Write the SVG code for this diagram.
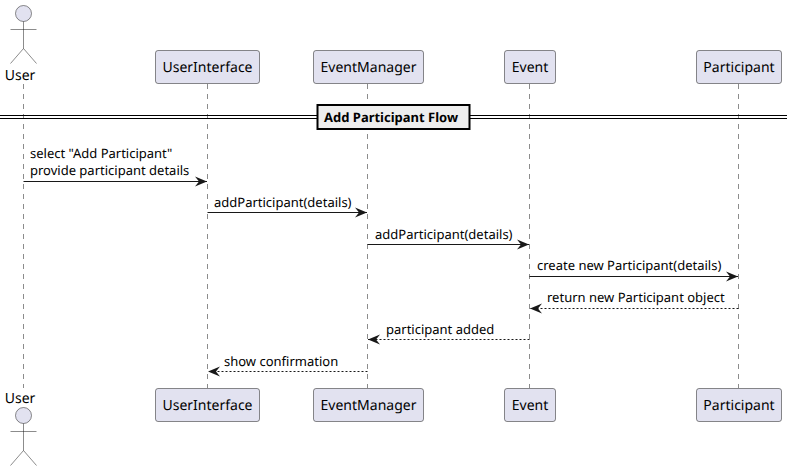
<svg xmlns="http://www.w3.org/2000/svg" width="792" height="471" viewBox="0 0 792 471">
<style>
text{font-family:"Noto Sans","Open Sans",sans-serif;fill:#000;text-rendering:geometricPrecision}
.n{font-size:14px;text-anchor:middle}
.m{font-size:13px}
.box{fill:#E2E2F0;stroke:#181818;stroke-width:.5}
.act{fill:none;stroke:#181818;stroke-width:.5}
.life{stroke:#181818;stroke-width:.5;stroke-dasharray:5 5;fill:none}
.msg{stroke:#181818;stroke-width:1;fill:none}
.dash{stroke-dasharray:2 2}
</style>
<defs>
<marker id="arrow" markerUnits="userSpaceOnUse" markerWidth="13" markerHeight="12" refX="12" refY="6" orient="auto"><path d="M0 1L12 6L0 11L4 6Z" fill="#181818"/></marker>
</defs>
<g id="connectors">
<path class="life" d="M23.5 84V388M207.5 84V388M367.5 84V388M529.5 84V388M738.5 84V388"/>
<path class="msg" marker-end="url(#arrow)" d="M23.5 181.5H207"/>
<path class="msg" marker-end="url(#arrow)" d="M207.5 212.5H367"/>
<path class="msg" marker-end="url(#arrow)" d="M367.5 244.5H529"/>
<path class="msg" marker-end="url(#arrow)" d="M529.5 276.5H738"/>
<path class="msg dash" marker-end="url(#arrow)" d="M738.5 308.5H530"/>
<path class="msg dash" marker-end="url(#arrow)" d="M529.5 339.5H368"/>
<path class="msg dash" marker-end="url(#arrow)" d="M367.5 371.5H208"/>
<text class="m" x="30" y="158">select "Add Participant"</text>
<text class="m" x="30" y="175">provide participant details</text>
<text class="m" x="214" y="207">addParticipant(details)</text>
<text class="m" x="375" y="239">addParticipant(details)</text>
<text class="m" x="537" y="270">create new Participant(details)</text>
<text class="m" x="547" y="302">return new Participant object</text>
<text class="m" x="386" y="334">participant added</text>
<text class="m" x="224" y="366">show confirmation</text>
</g>
<g id="divider">
<path d="M0 115.5H317M0 118.5H317M470 115.5H787M470 118.5H787" stroke="#000" stroke-width="1" fill="none"/>
<rect x="317.5" y="105" width="152" height="24" fill="#EEEEEE" stroke="#000" stroke-width="2"/>
<text x="324" y="122" font-size="13" font-weight="700">Add Participant Flow</text>
</g>
<g id="user-top">
<circle class="box" cx="23.5" cy="13.5" r="8"/>
<path class="act" d="M23.5 21.5V48.5M10.5 29.5H36.5M23.5 48.5L10.5 63.5M23.5 48.5L36.5 63.5"/>
<text class="n" x="20" y="80">User</text>
</g>
<g id="userinterface-top"><rect class="box" x="155.5" y="50.5" width="104" height="33" rx="2.5"/><text class="n" x="207.5" y="72">UserInterface</text></g>
<g id="eventmanager-top"><rect class="box" x="313.5" y="50.5" width="110" height="33" rx="2.5"/><text class="n" x="368.5" y="72">EventManager</text></g>
<g id="event-top"><rect class="box" x="504.5" y="50.5" width="51" height="33" rx="2.5"/><text class="n" x="530" y="72">Event</text></g>
<g id="participant-top"><rect class="box" x="696.5" y="50.5" width="85" height="33" rx="2.5"/><text class="n" x="739" y="72">Participant</text></g>
<g id="user-bottom">
<text class="n" x="20" y="403">User</text>
<circle class="box" cx="23.5" cy="415.5" r="8"/>
<path class="act" d="M23.5 423.5V450.5M10.5 431.5H36.5M23.5 450.5L10.5 465.5M23.5 450.5L36.5 465.5"/>
</g>
<g id="userinterface-bottom"><rect class="box" x="155.5" y="388.5" width="104" height="33" rx="2.5"/><text class="n" x="207.5" y="410">UserInterface</text></g>
<g id="eventmanager-bottom"><rect class="box" x="313.5" y="388.5" width="110" height="33" rx="2.5"/><text class="n" x="368.5" y="410">EventManager</text></g>
<g id="event-bottom"><rect class="box" x="504.5" y="388.5" width="51" height="33" rx="2.5"/><text class="n" x="530" y="410">Event</text></g>
<g id="participant-bottom"><rect class="box" x="696.5" y="388.5" width="85" height="33" rx="2.5"/><text class="n" x="739" y="410">Participant</text></g>
</svg>
